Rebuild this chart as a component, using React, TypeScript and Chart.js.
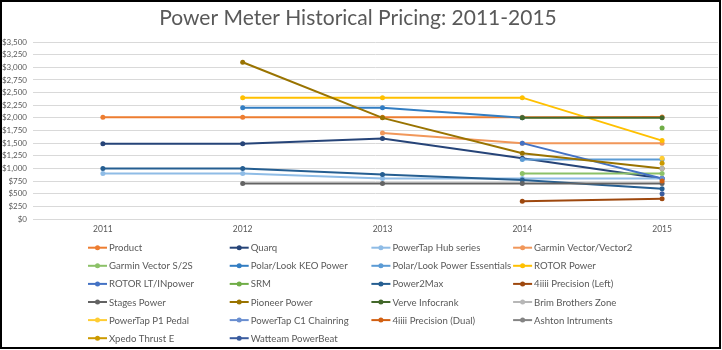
import React, { useEffect, useRef } from "react";
import { Chart, registerables } from "chart.js";
Chart.register(...registerables);

const years = [2011, 2012, 2013, 2014, 2015];
const yTickStep = 250;
const yMax = 3500;

const seriesNames = [
  "Product", "Quarq", "PowerTap Hub series", "Garmin Vector/Vector2",
  "Garmin Vector S/2S", "Polar/Look KEO Power", "Polar/Look Power Essentials", "ROTOR Power",
  "ROTOR LT/INpower", "SRM", "Power2Max", "4iiii Precision (Left)",
  "Stages Power", "Pioneer Power", "Verve Infocrank", "Brim Brothers Zone",
  "PowerTap P1 Pedal", "PowerTap C1 Chainring", "4iiii Precision (Dual)", "Ashton Intruments",
  "Xpedo Thrust E", "Watteam PowerBeat",
];

const product = [2011, 2012, 2013, 2014, 2015];
const quarq = [1490, 1490, 1590, 1200, 800];
const powertapHub = [900, 900, 800, 800, 800];
const garminVector = [null, null, 1700, 1500, 1500];
const garminVectorS = [null, null, null, 900, 900];
const polarKeo = [null, 2200, 2200, 2000, null];
const polarEssentials = [null, null, null, 1175, 1175];
const rotorPower = [null, 2400, 2400, 2400, 1550];
const rotorLt = [null, null, null, 1500, 800];
const srm = [null, null, null, null, 1800];
const power2max = [1000, 1000, 880, 770, 600];
const fourLeft = [null, null, null, 350, 400];
const stages = [null, 700, 700, 700, 700];
const pioneer = [null, 3100, 2000, 1300, 1000];
const verve = [null, null, null, 2000, 2000];
const brim = [null, null, null, null, 1000];
const p1Pedal = [null, null, null, null, 1200];
const c1Chainring = [null, null, null, null, 800];
const fourDual = [null, null, null, null, 750];
const ashton = [null, null, null, null, null];
const xpedo = [null, null, null, null, 1100];
const watteam = [null, null, null, null, 500];

const seriesValues = [
  product, quarq, powertapHub, garminVector,
  garminVectorS, polarKeo, polarEssentials, rotorPower,
  rotorLt, srm, power2max, fourLeft,
  stages, pioneer, verve, brim,
  p1Pedal, c1Chainring, fourDual, ashton,
  xpedo, watteam,
];

const seriesColors = [
  "#ED7D31", "#264478", "#8FBCE6", "#F1975A",
  "#8CC168", "#327DC2", "#5B9BD5", "#FFC000",
  "#4472C4", "#70AD47", "#255E91", "#9E480E",
  "#636363", "#997300", "#43682B", "#B7B7B7",
  "#FFCD33", "#698ED0", "#D26012", "#848484",
  "#CC9A00", "#3A5C9F",
];

const FONT = "Lato, 'Open Sans', sans-serif";
const TEXT = "#595959";

const overlayPlugin = {
  id: "overlay",
  afterDraw(chart: any) {
    const ctx = chart.ctx;
    ctx.save();
    // title
    ctx.fillStyle = TEXT;
    ctx.font = `21px ${FONT}`;
    ctx.textAlign = "center";
    ctx.textBaseline = "middle";
    ctx.fillText("Power Meter Historical Pricing: 2011-2015", 358, 18);
    // legend grid
    const colX = 88;
    const colW = 141.7;
    const rowY = 247.7;
    const rowH = 18.1;
    ctx.font = `9.6px ${FONT}`;
    ctx.textAlign = "left";
    seriesNames.forEach((name, i) => {
      const col = i % 4;
      const row = Math.floor(i / 4);
      const x = colX + col * colW;
      const y = rowY + row * rowH;
      ctx.strokeStyle = seriesColors[i];
      ctx.lineWidth = 2;
      ctx.beginPath();
      ctx.moveTo(x, y);
      ctx.lineTo(x + 19, y);
      ctx.stroke();
      ctx.fillStyle = seriesColors[i];
      ctx.beginPath();
      ctx.arc(x + 9.5, y, 2.5, 0, Math.PI * 2);
      ctx.fill();
      ctx.fillStyle = TEXT;
      ctx.fillText(name, x + 21, y + 0.5);
    });
    // frame
    ctx.strokeStyle = "#000";
    ctx.lineWidth = 2;
    ctx.strokeRect(1, 1, 719, 347);
    ctx.restore();
  },
};

export default function App() {
  const ref = useRef<HTMLCanvasElement>(null);
  useEffect(() => {
    document.body.style.margin = "0";
    const datasets = seriesNames.map((name, i) => ({
      label: name,
      data: years.map((yr, j) => ({ x: yr, y: seriesValues[i][j] })),
      borderColor: seriesColors[i],
      backgroundColor: seriesColors[i],
      pointBackgroundColor: seriesColors[i],
      pointBorderColor: seriesColors[i],
      borderWidth: 2,
      pointRadius: 2.5,
      pointBorderWidth: 0,
      spanGaps: false,
      order: seriesNames.length - i,
    }));
    const chart = new Chart(ref.current!, {
      type: "line",
      data: { datasets },
      options: {
        animation: false,
        responsive: true,
        maintainAspectRatio: false,
        layout: { padding: { top: 42, left: 0, right: 4, bottom: 111 } },
        plugins: { legend: { display: false }, title: { display: false }, tooltip: { enabled: false } },
        scales: {
          x: {
            type: "linear",
            min: 2010.5,
            max: 2015.4,
            grid: { display: false, drawTicks: false },
            border: { display: false },
            afterBuildTicks: (s: any) => { s.ticks = years.map((v) => ({ value: v })); },
            afterFit: (s: any) => { s.height = 20; },
            ticks: {
              color: TEXT,
              font: { family: FONT, size: 8.5 },
              padding: 5,
              callback: (v: any) => String(v),
            },
          },
          y: {
            min: 0,
            max: yMax,
            grid: { color: "#D9D9D9", lineWidth: 1, drawTicks: false },
            border: { display: false },
            afterFit: (s: any) => { s.width = 33; },
            ticks: {
              stepSize: yTickStep,
              color: TEXT,
              font: { family: FONT, size: 8 },
              padding: 6,
              callback: (v: any) => "$" + Number(v).toLocaleString("en-US"),
            },
          },
        },
      },
      plugins: [overlayPlugin],
    });
    return () => chart.destroy();
  }, []);
  return (
    <div style={{ width: 722, height: 350, position: "relative", background: "#fff" }}>
      <canvas ref={ref} />
    </div>
  );
}
